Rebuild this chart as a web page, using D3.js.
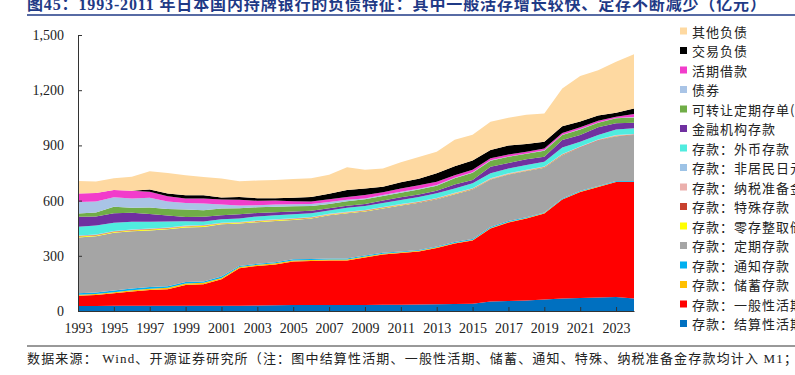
<!DOCTYPE html>
<html><head><meta charset="utf-8">
<script src="https://cdn.jsdelivr.net/npm/d3@7/dist/d3.min.js"></script>
<style>body{margin:0;background:#fff;overflow:hidden;} svg{display:block;}</style>
</head><body>
<svg id="chart" width="795" height="375"></svg>
<script>
// ---------- data (亿元) ----------
const years = [1993,1994,1995,1996,1997,1998,1999,2000,2001,2002,2003,2004,2005,2006,2007,2008,
               2009,2010,2011,2012,2013,2014,2015,2016,2017,2018,2019,2020,2021,2022,2023,2024];
const xTickYears = [1993,1995,1997,1999,2001,2003,2005,2007,2009,2011,2013,2015,2017,2019,2021,2023];
const yTicks = [0,300,600,900,1200,1500];

const settlementDemand = [27,27,28,28,29,29,29,29,28,28,30,31,32,32,32,33,33,34,34,35,37,38,40,52,55,57,62,68,71,73,76,68];
const generalDemand    = [56,60,68,78,85,89,112,116,144,204,215,222,237,240,243,242,258,273,281,288,305,329,343,396,426,446,468,538,576,601,625,633];
const savings          = [5,5,6,7,7,8,8,8,8,7,6,6,6,5,5,5,5,4,4,4,4,3,3,3,3,2,2,2,2,2,2,2];
const notice           = [8,8,9,9,9,9,8,8,7,6,6,6,6,6,6,6,5,5,5,5,5,5,5,5,5,4,4,4,4,4,4,4];
const timeDeposits     = [304,306,314,311,308,309,297,296,284,230,226,224,214,220,234,245,240,241,250,256,256,260,269,259,253,252,243,235,235,246,243,249];
const installment      = [5,5,5,5,5,5,5,5,4,4,4,4,4,3,3,3,3,3,2,2,2,2,2,1,1,1,1,1,1,1,1,1];
const special          = [2,2,2,2,2,2,2,2,2,2,2,2,2,2,2,2,2,2,2,2,2,2,2,2,2,2,2,2,2,2,2,2];
const taxReserve       = [2,2,2,2,2,2,2,2,2,2,2,2,2,2,2,2,2,2,2,2,2,2,2,2,2,2,2,2,2,2,2,2];
const nonResidentYen   = [1,1,1,1,1,1,1,1,1,1,1,1,1,1,1,1,1,1,1,1,1,1,1,1,1,1,1,1,1,1,1,1];
const foreignCurrency  = [48,48,45,42,37,32,24,19,18,19,22,23,22,20,18,22,22,22,22,24,26,24,27,27,27,27,26,36,26,24,31,31];
const financialInst    = [54,49,51,49,42,33,23,26,23,23,19,16,15,14,13,11,11,14,15,14,14,22,18,36,30,31,27,40,36,42,33,30];
const cds              = [18,22,36,27,36,35,40,36,36,33,31,30,28,26,23,24,26,24,25,27,27,33,40,33,33,29,33,27,31,25,27,29];
const bonds            = [63,60,51,51,52,41,36,36,22,15,11,12,11,11,11,8,4,5,5,5,4,3,2,2,2,2,2,2,2,2,2,2];
const callMoney        = [46,46,40,41,33,29,24,27,27,30,24,21,17,13,15,16,19,16,18,19,18,14,13,11,10,10,10,10,9,9,7,16];
const trading          = [0,0,0,1,13,15,18,18,11,15,14,13,19,24,29,38,35,29,34,35,46,49,51,45,49,42,37,36,32,28,22,31];
const otherLiab        = [67,63,64,75,99,111,109,99,103,86,96,99,101,103,103,123,101,100,109,118,117,144,140,154,151,158,153,205,247,247,277,295];

// stack order: bottom -> top
const seriesKeys = ["settle","general","savings","notice","time","install","special","tax","nonres","fx","fin","cd","bonds","call","trading","other"];
const seriesValues = [settlementDemand,generalDemand,savings,notice,timeDeposits,installment,special,taxReserve,nonResidentYen,foreignCurrency,financialInst,cds,bonds,callMoney,trading,otherLiab];
const seriesLabels = ["存款：结算性活期存款","存款：一般性活期存款","存款：储蓄存款","存款：通知存款","存款：定期存款","存款：零存整取储蓄存款",
  "存款：特殊存款","存款：纳税准备金存款","存款：非居民日元存款","存款：外币存款","金融机构存款","可转让定期存单(CD)","债券","活期借款","交易负债","其他负债"];
const seriesColors = ["#0070C0","#FF0000","#FFC000","#00B0F0","#A5A5A5","#FFFF00","#C8412E","#EBB0AD","#9DC3E6","#50ECDF",
  "#7030A0","#70AD47","#A9C4E6","#F23CCB","#000000","#FED9A1"];

const titleText = "图45：1993-2011 年日本国内持牌银行的负债特征：其中一般活存增长较快、定存不断减少（亿元）";
const sourceText = "数据来源：  Wind、开源证券研究所（注：图中结算性活期、一般性活期、储蓄、通知、特殊、纳税准备金存款均计入 M1；";

// ---------- build ----------
const svg = d3.select("#chart");
const table = years.map((y,i)=>{ const r={year:y}; seriesKeys.forEach((k,j)=>r[k]=seriesValues[j][i]); return r; });

const x = d3.scaleLinear().domain([1993,2024]).range([78,634]);
const y = d3.scaleLinear().domain([0,1500]).range([311,35]);

const stack = d3.stack().keys(seriesKeys);
const layers = stack(table);
const area = d3.area().x(d=>x(d.data.year)).y0(d=>y(d[0])).y1(d=>y(d[1]));

svg.append("g").selectAll("path").data(layers).join("path")
  .attr("d",area).attr("fill",(d,i)=>seriesColors[i]);

// axes
const axisColor = "#333";
const serif = "'Liberation Serif','Times New Roman',serif";
const yAxis = d3.axisLeft(y).tickValues(yTicks).tickSizeInner(-4).tickSizeOuter(0).tickPadding(14)
  .tickFormat(d3.format(","));
const gy = svg.append("g").attr("transform","translate(78,0)").call(yAxis);
gy.select(".domain").attr("stroke",axisColor);
gy.selectAll(".tick line").attr("stroke",axisColor);
gy.selectAll("text").attr("font-family",serif).attr("font-size",14).attr("fill","#222");

const xAxis = d3.axisBottom(x).tickValues(xTickYears).tickSizeInner(-4).tickSizeOuter(0).tickPadding(12)
  .tickFormat(d3.format("d"));
const gx = svg.append("g").attr("transform","translate(0,311)").call(xAxis);
gx.select(".domain").attr("stroke",axisColor);
gx.selectAll(".tick line").attr("stroke",axisColor);
gx.selectAll("text").attr("font-family",serif).attr("font-size",14).attr("fill","#222");

// legend (top to bottom = reverse stack order)
const cjk = "'Noto Sans CJK SC','Noto Sans',sans-serif";
const legendOrder = d3.range(seriesKeys.length).reverse();
const lg = svg.append("g");
legendOrder.forEach((si,row)=>{
  const cy = 31 + row*19.5;
  lg.append("rect").attr("x",680).attr("y",cy-3.5).attr("width",7).attr("height",7).attr("fill",seriesColors[si]);
  lg.append("text").attr("x",692).attr("y",cy).attr("dominant-baseline","central")
    .attr("font-family",cjk).attr("font-size",13).attr("letter-spacing","1px").attr("fill","#222")
    .text(seriesLabels[si]);
});

// title
svg.append("text").attr("x",27).attr("y",10).attr("font-family","'Liberation Serif','Noto Sans CJK SC',serif")
  .attr("font-weight","bold").attr("font-size",16).attr("fill","#1F3A86")
  .attr("textLength",739).attr("lengthAdjust","spacing").text(titleText);
svg.append("line").attr("x1",27).attr("x2",795).attr("y1",15).attr("y2",15).attr("stroke","#1F3A86").attr("stroke-width",1.5);

// bottom separator and source
svg.append("line").attr("x1",27).attr("x2",795).attr("y1",346).attr("y2",346).attr("stroke","#333").attr("stroke-width",1);
svg.append("text").attr("x",27).attr("y",363).attr("font-family","'Liberation Serif','Noto Sans CJK SC',serif")
  .attr("font-size",13).attr("fill","#222").attr("textLength",770).attr("lengthAdjust","spacing").text(sourceText);
</script>
</body></html>
